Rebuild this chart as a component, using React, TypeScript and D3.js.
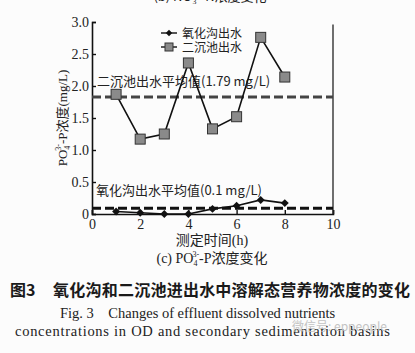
import React, { useRef, useEffect } from 'react';
import * as d3 from 'd3';

// 测定时间 (h)
const hours = [1, 2, 3, 4, 5, 6, 7, 8];
// 氧化沟出水 PO4-P (mg/L)
const odEffluent = [0.04, 0.02, 0.0, 0.0, 0.08, 0.13, 0.22, 0.17];
// 二沉池出水 PO4-P (mg/L)
const secEffluent = [1.87, 1.17, 1.25, 2.36, 1.33, 1.52, 2.76, 2.14];
// mean lines (drawn where they sit in the figure)
const meanValues = [0.09, 1.83];
const meanLabels = ['氧化沟出水平均值(0.1 mg/L)', '二沉池出水平均值(1.79 mg/L)'];
const seriesNames = ['氧化沟出水', '二沉池出水'];
const yTicks = [0, 0.5, 1.0, 1.5, 2.0, 2.5, 3.0];
const xTicks = [0, 2, 4, 6, 8, 10];

const SERIF = '"Liberation Serif", "Noto Sans CJK SC", serif';
const CJK = '"Noto Sans CJK SC", "Liberation Serif", serif';

const App = () => {
    const ref = useRef<SVGSVGElement>(null);

    useEffect(() => {
        const svg = d3.select(ref.current);
        svg.selectAll('*').remove();

        const x = d3.scaleLinear().domain([0, 10]).range([92, 333]);
        const y = d3.scaleLinear().domain([0, 3]).range([214, 22]);

        svg.append('rect').attr('width', 415).attr('height', 353).attr('fill', '#fcfcfc');

        // cut-off title of the panel above
        svg.append('text')
            .attr('x', 210).attr('y', 1)
            .attr('text-anchor', 'middle')
            .style('font-family', CJK).style('font-size', '13px').attr('fill', '#222')
            .text('(b) NO₃⁻-N浓度变化');

        // axes
        const yAxis = svg.append('g')
            .attr('transform', `translate(${x(0)},0)`)
            .call(d3.axisLeft(y).tickValues(yTicks).tickSize(-4).tickPadding(3)
                .tickFormat(d => (+d === 0 ? '0' : d3.format('.1f')(+d))));
        yAxis.select('.domain').attr('stroke', '#111').attr('stroke-width', 1.6);
        yAxis.selectAll('.tick line').attr('stroke', '#111').attr('stroke-width', 1.4);
        yAxis.selectAll('text').style('font-family', SERIF).style('font-size', '14px').attr('fill', '#222');

        const xAxis = svg.append('g')
            .attr('transform', `translate(0,${y(0)})`)
            .call(d3.axisBottom(x).tickValues(xTicks).tickSize(-4).tickPadding(5));
        xAxis.select('.domain').attr('stroke', '#111').attr('stroke-width', 1.6);
        xAxis.selectAll('.tick line').attr('stroke', '#111').attr('stroke-width', 1.4);
        xAxis.selectAll('text').style('font-family', SERIF).style('font-size', '14px').attr('fill', '#222');

        // right frame line
        svg.append('line')
            .attr('x1', x(10)).attr('x2', x(10))
            .attr('y1', y(2.96)).attr('y2', y(0))
            .attr('stroke', '#222').attr('stroke-width', 1.3);

        // mean lines
        const meanColors = ['#111', '#444'];
        meanValues.forEach((v, i) => {
            svg.append('line')
                .attr('x1', x(0)).attr('x2', x(10))
                .attr('y1', y(v)).attr('y2', y(v))
                .attr('stroke', meanColors[i]).attr('stroke-width', 3)
                .attr('stroke-dasharray', '9,4');
        });
        svg.append('text').attr('x', 96).attr('y', y(0.3))
            .style('font-family', CJK).style('font-size', '13px').attr('fill', '#222')
            .text(meanLabels[0]);
        svg.append('text').attr('x', 97).attr('y', y(2.0))
            .style('font-family', CJK).style('font-size', '13px').attr('fill', '#222')
            .text(meanLabels[1]);

        const line = d3.line<number>()
            .x((d, i) => x(hours[i]))
            .y(d => y(d));

        // 二沉池出水
        svg.append('path').datum(secEffluent)
            .attr('d', line).attr('fill', 'none')
            .attr('stroke', '#111').attr('stroke-width', 1.6);
        svg.selectAll('.sq').data(secEffluent).join('rect')
            .attr('x', (d, i) => x(hours[i]) - 5).attr('y', d => y(d) - 5)
            .attr('width', 10).attr('height', 10)
            .attr('fill', '#8a8a8a').attr('stroke', '#333').attr('stroke-width', 1);

        // 氧化沟出水
        svg.append('path').datum(odEffluent)
            .attr('d', line).attr('fill', 'none')
            .attr('stroke', '#111').attr('stroke-width', 1.6);
        const diamond = d3.symbol().type(d3.symbolDiamond2).size(40);
        svg.selectAll('.dm').data(odEffluent).join('path')
            .attr('d', diamond)
            .attr('transform', (d, i) => `translate(${x(hours[i])},${y(d)})`)
            .attr('fill', '#111');

        // legend
        const lg = svg.append('g');
        seriesNames.forEach((name, i) => {
            const ly = 33 + i * 14;
            lg.append('line').attr('x1', 161).attr('x2', 177).attr('y1', ly).attr('y2', ly)
                .attr('stroke', '#111').attr('stroke-width', 1.4);
            if (i === 0) {
                lg.append('path').attr('d', d3.symbol().type(d3.symbolDiamond2).size(26))
                    .attr('transform', `translate(169,${ly})`).attr('fill', '#111');
            } else {
                lg.append('rect').attr('x', 165).attr('y', ly - 4).attr('width', 8).attr('height', 8)
                    .attr('fill', '#8a8a8a').attr('stroke', '#333');
            }
            lg.append('text').attr('x', 182).attr('y', ly + 4.5)
                .style('font-family', CJK).style('font-size', '12px').attr('fill', '#222')
                .text(name);
        });

        // y title
        const yt = svg.append('text')
            .attr('transform', 'translate(67,118) rotate(-90)')
            .attr('text-anchor', 'middle')
            .style('font-family', SERIF).style('font-size', '13px').attr('fill', '#222');
        yt.append('tspan').text('PO');
        yt.append('tspan').attr('dy', 3).style('font-size', '8px').text('4');
        yt.append('tspan').attr('dx', -5).attr('dy', -9).style('font-size', '8px').text('3-');
        yt.append('tspan').attr('dy', 6).text('-P浓度(mg/L)');

        // x title and panel label
        svg.append('text').attr('x', 212).attr('y', 245).attr('text-anchor', 'middle')
            .style('font-family', SERIF).style('font-size', '14px').attr('fill', '#222')
            .text('测定时间(h)');
        const pl = svg.append('text').attr('x', 212).attr('y', 263).attr('text-anchor', 'middle')
            .style('font-family', SERIF).style('font-size', '14px').attr('fill', '#222');
        pl.append('tspan').text('(c) PO');
        pl.append('tspan').attr('dy', 3).style('font-size', '8px').text('4');
        pl.append('tspan').attr('dx', -5).attr('dy', -9).style('font-size', '8px').text('3-');
        pl.append('tspan').attr('dy', 6).text('-P浓度变化');

        // caption
        svg.append('text').attr('x', 10).attr('y', 296)
            .style('font-family', CJK).style('font-size', '16px').style('font-weight', 'bold').attr('fill', '#1a1a1a')
            .text('图3');
        svg.append('text').attr('x', 53).attr('y', 296)
            .style('font-family', CJK).style('font-size', '16px').style('font-weight', 'bold').attr('fill', '#1a1a1a')
            .attr('textLength', 357)
            .text('氧化沟和二沉池进出水中溶解态营养物浓度的变化');
        svg.append('text').attr('x', 60).attr('y', 318)
            .style('font-family', SERIF).style('font-size', '14.5px').attr('fill', '#222')
            .text('Fig. 3\u2003Changes of effluent dissolved nutrients');
        svg.append('text').attr('x', 15).attr('y', 336)
            .style('font-family', SERIF).style('font-size', '14.5px').attr('fill', '#222')
            .attr('textLength', 375)
            .text('concentrations in OD and secondary sedimentation basins');

        // watermark (sits over the last caption line, as in the source)
        svg.append('text').attr('x', 292).attr('y', 331)
            .style('font-family', CJK).style('font-size', '12px').attr('fill', '#c4c4c4')
            .text('微信号: eppeople');
    }, []);

    return (
        <svg ref={ref} width={415} height={353}
            style={{ position: 'absolute', left: 0, top: 0, background: '#fcfcfc' }} />
    );
};

export default App;
